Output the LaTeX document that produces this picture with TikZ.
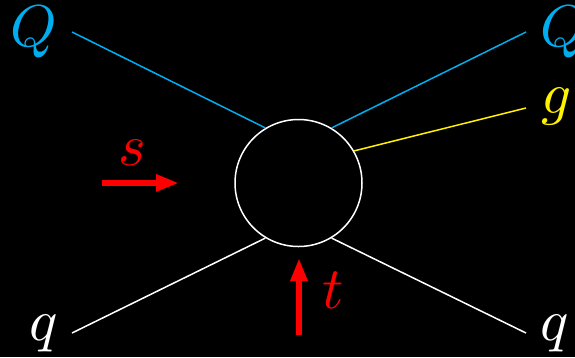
\documentclass[tikz,border=0pt]{standalone}
\usepackage{graphicx}
\usetikzlibrary{arrows.meta}
\definecolor{qcyan}{RGB}{0,174,239}
\definecolor{gyellow}{RGB}{255,242,0}
\definecolor{kred}{RGB}{255,0,0}
\newcommand{\bigsym}[1]{\scalebox{5.9}{$#1$}}
\tikzset{
  leg/.style={line width=1.5pt},
  lbl/.style={inner sep=0pt, anchor=base},
  kin/.style={draw=kred, line width=6.5pt, -{Triangle[length=23pt,width=16pt]}},
}
\begin{document}
\begin{tikzpicture}[x=1pt,y=-1pt]
\fill[black] (0,0) rectangle (575,357);
\useasboundingbox (0,0) rectangle (575,357);
\node[draw=white, line width=1.5pt, circle, minimum size=127pt, inner sep=0pt] (v) at (298.5,183) {};
\coordinate (qa) at (72,32);
\coordinate (qb) at (526,32);
\coordinate (ga) at (526,108);
\coordinate (pa) at (72,333);
\coordinate (pb) at (526,333);
\draw[leg, qcyan] (qa) -- (v.121);
\draw[leg, qcyan] (qb) -- (v.59);
\draw[leg, gyellow] (ga) -- (v.30);
\draw[leg, white] (pa) -- (v.239);
\draw[leg, white] (pb) -- (v.301);
\node[lbl, text=qcyan] (Ql) at (34,46) {\bigsym{Q}};
\node[lbl, text=qcyan] (Qr) at (564,46) {\bigsym{Q}};
\node[lbl, text=gyellow] (g) at (557,113.5) {\bigsym{g}};
\node[lbl, text=white] (ql) at (44,340.5) {\bigsym{q}};
\node[lbl, text=white] (qr) at (555,340.5) {\bigsym{q}};
\node[lbl, text=kred] (s) at (132,165.5) {\bigsym{s}};
\node[lbl, text=kred] (t) at (333,308) {\bigsym{t}};
\coordinate (s0) at (102,183);
\coordinate (s1) at (179,183);
\coordinate (t0) at (299,335);
\coordinate (t1) at (299,258);
\draw[kin] (s0) -- (s1);
\draw[kin] (t0) -- (t1);
\end{tikzpicture}
\end{document}
